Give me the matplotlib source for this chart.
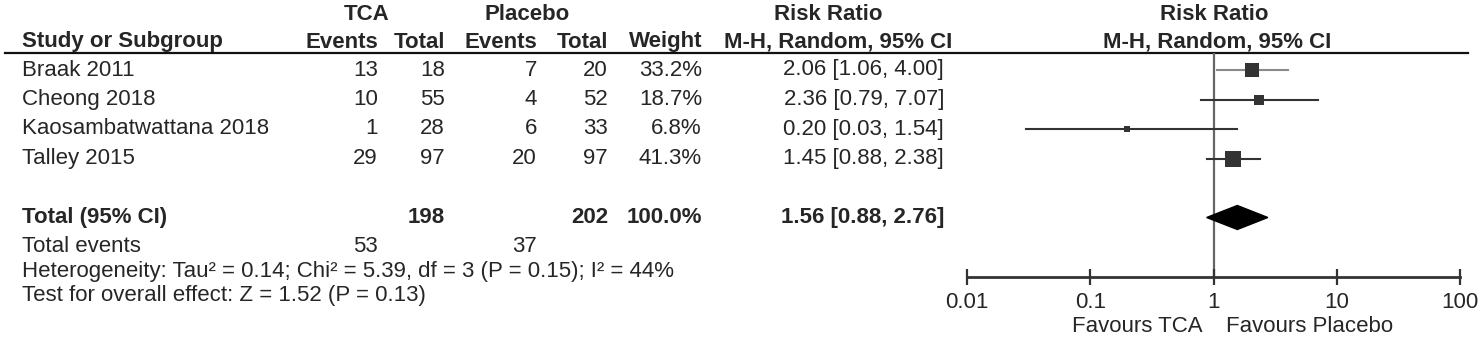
import matplotlib.pyplot as plt

plt.rcParams["font.family"] = ["Liberation Sans", "DejaVu Sans"]

# study data
studies = ["Braak 2011", "Cheong 2018", "Kaosambatwattana 2018", "Talley 2015"]
tca_events = [13, 10, 1, 29]
tca_total = [18, 55, 28, 97]
pla_events = [7, 4, 6, 20]
pla_total = [20, 52, 33, 97]
weights = [33.2, 18.7, 6.8, 41.3]
rr = [2.06, 2.36, 0.20, 1.45]
ci_low = [1.06, 0.79, 0.03, 0.88]
ci_high = [4.00, 7.07, 1.54, 2.38]

# pooled result
total_tca, total_pla = 198, 202
events_tca, events_pla = 53, 37
pooled_rr, pooled_low, pooled_high = 1.56, 0.88, 2.76
heterogeneity = "Heterogeneity: Tau² = 0.14; Chi² = 5.39, df = 3 (P = 0.15); I² = 44%"
overall = "Test for overall effect: Z = 1.52 (P = 0.13)"
axis_ticks = [0.01, 0.1, 1, 10, 100]
axis_labels = ["0.01", "0.1", "1", "10", "100"]

W, H = 1484, 340
FS = 16
TXT = "#262626"

fig = plt.figure(figsize=(W / 100, H / 100), dpi=100)

# table area in pixel coordinates
tab = fig.add_axes([0, 0, 1, 1])
tab.set_xlim(0, W)
tab.set_ylim(H, 0)
tab.axis("off")


def row_y(i):
    return 70 + 29.5 * i


def put(x, y, s, ha="left", bold=False):
    tab.text(x, y, s, ha=ha, va="center", fontsize=FS, color=TXT,
             fontweight="bold" if bold else "normal")


# column right edges
c_te, c_tt, c_pe, c_pt, c_w, c_rr = 378, 445, 537, 608, 702, 944

# headers
put(367, 15, "TCA", "center", True)
put(527, 15, "Placebo", "center", True)
put(828, 15, "Risk Ratio", "center", True)
put(1214, 15, "Risk Ratio", "center", True)
put(22, 42, "Study or Subgroup", bold=True)
put(c_te, 42, "Events", "right", True)
put(c_tt, 42, "Total", "right", True)
put(c_pe, 42, "Events", "right", True)
put(c_pt, 42, "Total", "right", True)
put(c_w, 42, "Weight", "right", True)
put(952, 42, "M-H, Random, 95% CI", "right", True)
put(1217, 42, "M-H, Random, 95% CI", "center", True)
tab.plot([5, 1468], [53, 53], color="#111111", lw=1.6)

for i, name in enumerate(studies):
    y = row_y(i)
    put(22, y, name)
    put(c_te, y, str(tca_events[i]), "right")
    put(c_tt, y, str(tca_total[i]), "right")
    put(c_pe, y, str(pla_events[i]), "right")
    put(c_pt, y, str(pla_total[i]), "right")
    put(c_w, y, f"{weights[i]:.1f}%", "right")
    put(c_rr, y, f"{rr[i]:.2f} [{ci_low[i]:.2f}, {ci_high[i]:.2f}]", "right")

y_tot = row_y(5)
put(22, y_tot, "Total (95% CI)", bold=True)
put(c_tt, y_tot, str(total_tca), "right", True)
put(c_pt, y_tot, str(total_pla), "right", True)
put(c_w, y_tot, f"{sum(weights):.1f}%", "right", True)
put(c_rr, y_tot, f"{pooled_rr:.2f} [{pooled_low:.2f}, {pooled_high:.2f}]", "right", True)
put(22, 246, "Total events")
put(c_te, 246, str(events_tca), "right")
put(c_pe, 246, str(events_pla), "right")
put(22, 271, heterogeneity)
put(22, 296, overall)

# forest plot on a log scale
x0, x1 = 967, 1460
y_top, y_axis = 53, 277
ax = fig.add_axes([x0 / W, 1 - y_axis / H, (x1 - x0) / W, (y_axis - y_top) / H])
ax.set_xscale("log")
ax.set_xlim(0.01, 100)
ax.set_ylim(y_axis, y_top)
ax.patch.set_alpha(0)
for side in ["top", "left", "right"]:
    ax.spines[side].set_visible(False)
ax.spines["bottom"].set_color("#333333")
ax.spines["bottom"].set_linewidth(2)
ax.set_yticks([])
ax.set_xticks(axis_ticks)
ax.set_xticklabels(axis_labels)
ax.minorticks_off()
ax.tick_params(axis="x", direction="inout", length=12, width=1.6, color="#333333",
               labelsize=FS, labelcolor=TXT, pad=5)

ax.axvline(1, color="#666666", lw=1.6, zorder=1)

ci_colors = ["#8a8a8a", "#333333", "#333333", "#333333"]
for i in range(len(studies)):
    y = row_y(i)
    ax.plot([ci_low[i], ci_high[i]], [y, y], color=ci_colors[i], lw=1.5, zorder=2)
    side = 2.5 * weights[i] ** 0.5
    ax.plot(rr[i], y, marker="s", markersize=side * 0.72, color="#333333",
            markeredgewidth=0, zorder=3)

ax.fill([pooled_low, pooled_rr, pooled_high, pooled_rr],
        [y_tot, y_tot - 12, y_tot, y_tot + 12], color="black", zorder=3)

put(1203, 327, "Favours TCA", "right")
put(1226, 327, "Favours Placebo", "left")

fig.savefig("out.png", dpi=100)
